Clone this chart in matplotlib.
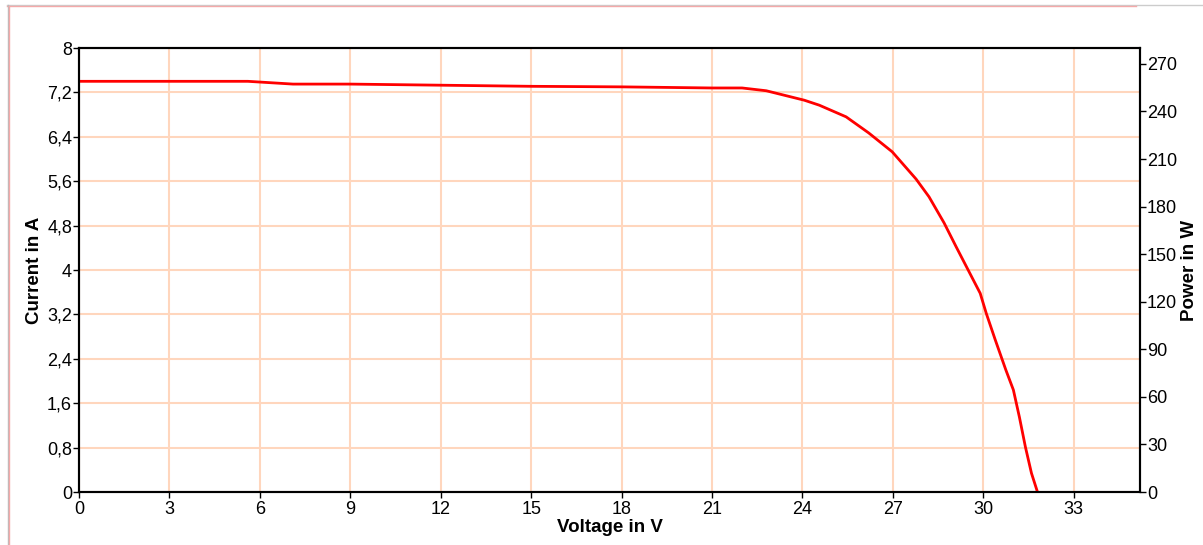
import matplotlib.pyplot as plt
from matplotlib.lines import Line2D

plt.rcParams['font.family'] = ['Liberation Sans', 'DejaVu Sans']

# I-V curve of the module
voltage = [0.0, 2.0, 4.0, 5.6, 6.2, 7.1, 9.0, 12.0, 15.0, 18.0, 21.0, 22.0, 22.8,
           24.06, 24.56, 25.45, 26.2, 26.98, 27.77, 28.2, 28.7, 29.1, 29.5,
           29.9, 30.1, 30.4, 30.75, 31.0, 31.2, 31.4, 31.6, 31.8]
current = [7.40, 7.40, 7.40, 7.40, 7.38, 7.35, 7.35, 7.33, 7.31, 7.30, 7.28, 7.28, 7.23,
           7.06, 6.97, 6.76, 6.47, 6.13, 5.64, 5.32, 4.85, 4.42, 4.0,
           3.58, 3.22, 2.74, 2.20, 1.84, 1.35, 0.81, 0.34, 0.0]

x_ticks = [0, 3, 6, 9, 12, 15, 18, 21, 24, 27, 30, 33]
i_ticks = [0, 0.8, 1.6, 2.4, 3.2, 4.0, 4.8, 5.6, 6.4, 7.2, 8.0]
i_labels = ["0", "0,8", "1,6", "2,4", "3,2", "4", "4,8", "5,6", "6,4", "7,2", "8"]
p_ticks = [0, 30, 60, 90, 120, 150, 180, 210, 240, 270]

grid_col = "#ffd6bd"

fig = plt.figure(figsize=(12.03, 5.45), dpi=100)
ax = fig.add_axes([0.0657, 0.0972, 0.8819, 0.8147])

ax.plot(voltage, current, color="red", lw=2, zorder=3)
ax.set_xlim(0, 35.2)
ax.set_ylim(0, 8)
ax.set_xticks(x_ticks)
ax.set_yticks(i_ticks)
ax.set_yticklabels(i_labels)
ax.grid(True, color=grid_col, lw=1.5)
ax.set_axisbelow(True)
ax.tick_params(labelsize=13, length=4, width=1, pad=1)
ax.tick_params(axis="x", pad=2.5)
ax.set_xlabel("Voltage in V", fontsize=13.5, fontweight="bold", labelpad=1)
ax.set_ylabel("Current in A", fontsize=13.5, fontweight="bold", labelpad=3)
for s in ax.spines.values():
    s.set_linewidth(1.5)

ax2 = ax.twinx()
ax2.set_ylim(0, 280)
ax2.set_yticks(p_ticks)
ax2.tick_params(labelsize=13, length=4, width=1, pad=1)
ax2.set_ylabel("Power in W", fontsize=13.5, fontweight="bold", labelpad=3)
for s in ax2.spines.values():
    s.set_linewidth(1.5)

# thin frame lines of the original widget
fig.add_artist(Line2D([0.006, 1.0], [0.991, 0.991], color="#cccccc", lw=1))
fig.add_artist(Line2D([0.006, 0.944], [0.989, 0.989], color="#f4a9a9", lw=1))
fig.add_artist(Line2D([0.0065, 0.0065], [0.0, 0.991], color="#bbbbbb", lw=1))
fig.add_artist(Line2D([0.0075, 0.0075], [0.0, 0.989], color="#f4a9a9", lw=1))

fig.savefig("out.png", dpi=100)
